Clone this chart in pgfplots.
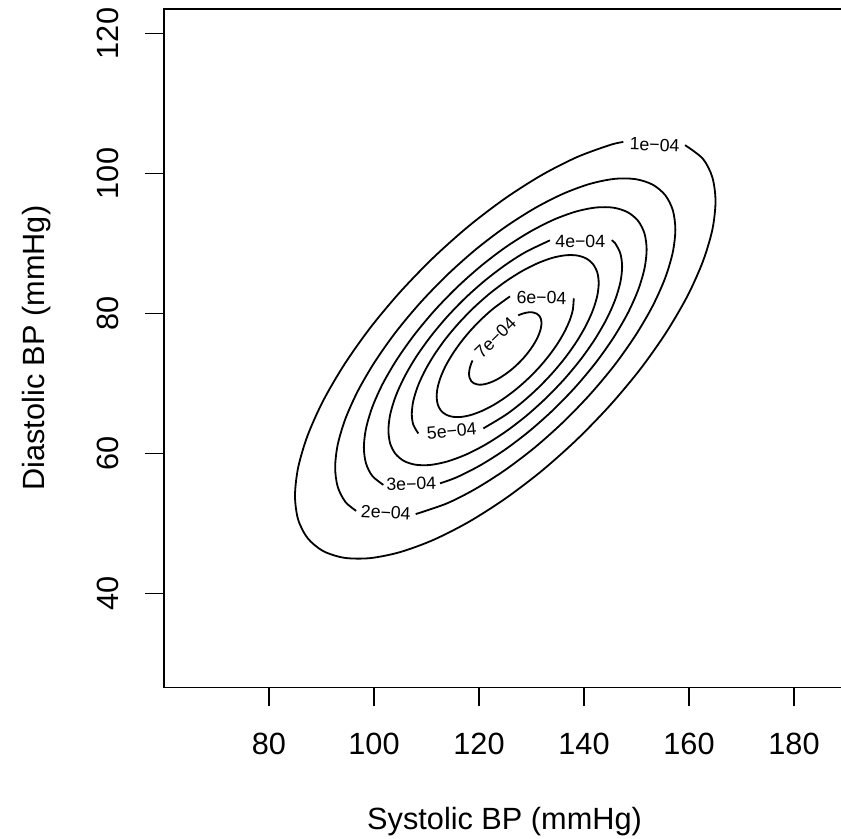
\documentclass[border=0pt]{standalone}
\usepackage{fontspec}
\setmainfont{Liberation Sans}
\usepackage{pgfplots}
\pgfplotsset{compat=1.18}
\newcommand{\axfont}{\fontsize{15.35}{18}\selectfont}
\newcommand{\labfont}{\fontsize{8.85}{10}\selectfont}
\begin{document}
\begin{tikzpicture}
\useasboundingbox (0,0) rectangle (420.5pt,419.5pt);
\begin{axis}[
  at={(82pt,75.75pt)}, anchor=south west,
  scale only axis, width=338.5pt, height=339.4pt,
  xmin=60, xmax=188.95, ymin=26.57, ymax=123.54,
  axis lines*=left,
  axis line style={draw=none},
  tick align=outside, major tick length=9.5pt,
  tick style={line width=0.9pt, black},
  xtick={80,100,...,180}, ytick={40,60,...,120},
  minor tick num=0,
  /pgf/number format/assume math mode=true,
  tick label style={font=\axfont, inner sep=0pt},
  xticklabel style={anchor=base, yshift=-24.25pt},
  yticklabel style={xshift=-13.1pt, rotate=90, anchor=base},
  every axis x label/.style={at={(axis description cs:0.503,-0.20993)}, anchor=base, font=\axfont, inner sep=0pt},
  every axis y label/.style={at={(axis description cs:-0.17578,0.5)}, rotate=90, anchor=base, font=\axfont, inner sep=0pt},
  xlabel={Systolic BP (mmHg)},
  ylabel={Diastolic BP (mmHg)},
  clip=false,
]
% level 1e-04
\addplot[smooth, black, line width=0.9pt] coordinates {
(147.49,104.50) (145.03,104.09) (138.70,102.35) (131.96,99.78) (125,96.45) (118.04,92.48) (111.30,87.97) (104.97,83.06) (99.25,77.92) (94.32,72.68) (90.31,67.52) (87.36,62.58) (85.56,58.02) (84.95,53.97) (85.55,50.56) (87.36,47.90) (90.31,46.06) (94.32,45.10) (99.25,45.05) (104.97,45.91) (111.30,47.65) (118.04,50.22) (125,53.55) (131.96,57.52) (138.70,62.03) (145.03,66.94) (150.75,72.08) (155.68,77.32) (159.69,82.48) (162.64,87.42) (164.45,91.98) (165.05,96.03) (164.45,99.44) (162.64,102.10) (159.24,104.05)
};
% level 2e-04
\addplot[smooth, black, line width=0.9pt] coordinates {
(107.94,51.34) (113.92,52.88) (119.37,54.96) (125,57.65) (130.63,60.86) (136.08,64.51) (141.20,68.48) (145.83,72.64) (149.82,76.88) (153.06,81.05) (155.45,85.05) (156.91,88.74) (157.40,92.01) (156.91,94.77) (155.45,96.92) (153.06,98.41) (149.82,99.19) (145.83,99.23) (141.20,98.53) (136.08,97.12) (130.63,95.04) (125,92.35) (119.37,89.14) (113.92,85.49) (108.80,81.52) (104.17,77.36) (100.18,73.12) (96.94,68.95) (94.55,64.95) (93.09,61.26) (92.60,57.99) (93.09,55.23) (94.55,53.08) (96.60,51.80)
};
% level 3e-04
\addplot[smooth, black, line width=0.9pt] coordinates {
(112.57,55.73) (115.79,56.61) (120.32,58.34) (125,60.57) (129.68,63.25) (134.21,66.28) (138.47,69.58) (142.31,73.04) (145.63,76.56) (148.33,80.03) (150.31,83.35) (151.52,86.42) (151.93,89.14) (151.52,91.43) (150.31,93.22) (148.33,94.46) (145.63,95.11) (142.31,95.14) (138.47,94.56) (134.21,93.39) (129.68,91.66) (125,89.43) (120.32,86.75) (115.79,83.72) (111.53,80.42) (107.69,76.96) (104.37,73.44) (101.67,69.97) (99.69,66.65) (98.48,63.58) (98.07,60.86) (98.48,58.57) (99.69,56.78) (101.78,55.51)
};
% level 4e-04
\addplot[smooth, black, line width=0.9pt] coordinates {
(133.52,90.45) (128.87,88.77) (125,86.92) (121.14,84.71) (117.39,82.21) (113.87,79.48) (110.70,76.62) (107.95,73.71) (105.73,70.84) (104.09,68.10) (103.08,65.56) (102.75,63.32) (103.08,61.42) (104.09,59.95) (105.73,58.92) (107.95,58.39) (110.70,58.36) (113.87,58.84) (117.39,59.80) (121.14,61.23) (125,63.08) (128.87,65.29) (132.61,67.80) (136.13,70.52) (139.31,73.38) (142.05,76.29) (144.27,79.16) (145.91,81.90) (146.92,84.44) (147.26,86.68) (146.92,88.58) (145.91,90.06) (145.27,90.46)
};
% level 5e-04
\addplot[smooth, black, line width=0.9pt] coordinates {
(120.82,63.58) (125,65.47) (128.09,67.23) (131.09,69.24) (133.90,71.42) (136.44,73.70) (138.63,76.03) (140.41,78.33) (141.72,80.52) (142.53,82.55) (142.80,84.34) (142.53,85.86) (141.72,87.04) (140.41,87.86) (138.63,88.29) (136.44,88.31) (133.90,87.93) (131.09,87.15) (128.09,86.01) (125,84.53) (121.91,82.77) (118.91,80.76) (116.10,78.58) (113.56,76.30) (111.37,73.97) (109.59,71.67) (108.28,69.48) (107.47,67.45) (107.20,65.66) (107.47,64.14) (108.44,62.86)
};
% level 6e-04
\addplot[smooth, black, line width=0.9pt] coordinates {
(125.90,82.44) (122.73,80.70) (120.53,79.23) (118.46,77.63) (116.60,75.95) (114.99,74.24) (113.68,72.56) (112.72,70.95) (112.13,69.46) (111.93,68.14) (112.13,67.03) (112.72,66.16) (113.68,65.56) (114.99,65.24) (116.60,65.22) (118.46,65.50) (120.53,66.07) (122.73,66.91) (125,68.00) (127.27,69.30) (129.47,70.77) (131.54,72.37) (133.40,74.05) (135.02,75.76) (136.32,77.44) (137.29,79.05) (137.87,80.54) (138.05,82.17)
};
% level 7e-04
\addplot[smooth, black, line width=0.9pt] coordinates {
(118.78,73.29) (118.52,72.86) (118.21,72.08) (118.10,71.38) (118.21,70.79) (118.52,70.33) (119.03,70.02) (119.72,69.85) (120.57,69.84) (121.55,69.99) (122.64,70.29) (123.80,70.73) (125,71.31) (126.20,71.99) (127.36,72.77) (128.45,73.61) (129.43,74.50) (130.28,75.40) (130.97,76.29) (131.48,77.14) (131.79,77.92) (131.90,78.62) (131.79,79.21) (131.48,79.67) (130.97,79.98) (130.28,80.15) (129.43,80.16) (128.45,80.01) (127.47,79.74)
};
% contour labels
\node[font=\labfont, inner sep=0pt, rotate=-2] at (axis cs:153.45,104.1) {1e−04};
\node[font=\labfont, inner sep=0pt, rotate=-3] at (axis cs:102.25,51.58) {2e−04};
\node[font=\labfont, inner sep=0pt, rotate=1.5] at (axis cs:107.1,55.65) {3e−04};
\node[font=\labfont, inner sep=0pt, rotate=0] at (axis cs:139.3,90.35) {4e−04};
\node[font=\labfont, inner sep=0pt, rotate=5] at (axis cs:114.8,63.2) {5e−04};
\node[font=\labfont, inner sep=0pt, rotate=-1] at (axis cs:131.9,82.25) {6e−04};
\node[font=\labfont, inner sep=0pt, rotate=44.5] at (axis cs:123.1,76.5) {7e−04};
% frame (left, bottom, top)
\draw[black, line width=0.9pt, line join=miter] (rel axis cs:1,1) -- (rel axis cs:0,1) -- (rel axis cs:0,0) -- (rel axis cs:1,0);
\end{axis}
\end{tikzpicture}
\end{document}
